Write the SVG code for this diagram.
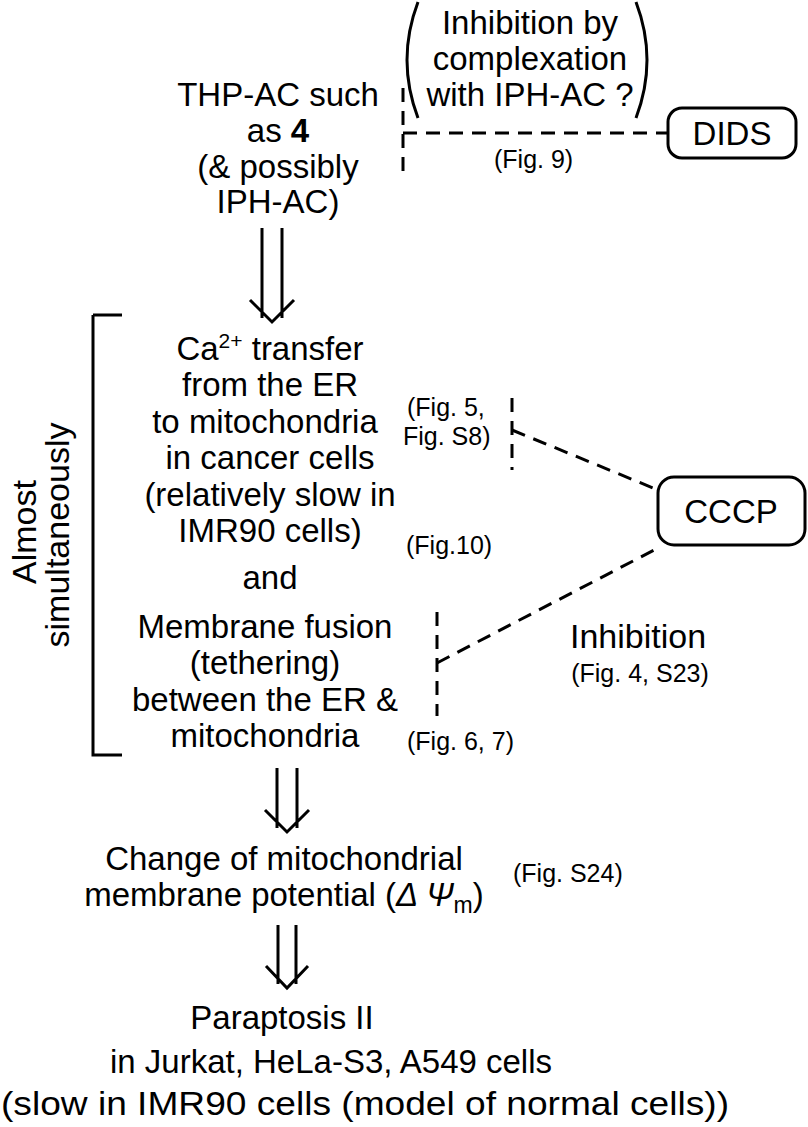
<svg xmlns="http://www.w3.org/2000/svg" width="808" height="1127" viewBox="0 0 808 1127">
<style>
text{font-family:"Liberation Sans",Arial,sans-serif;fill:#000}
.m{font-size:33px;text-anchor:middle}
.s{font-size:25px}
.d{fill:none;stroke:#000;stroke-width:3;stroke-dasharray:14,9}
.l{fill:none;stroke:#000;stroke-width:3}
.b{fill:#fff;stroke:#000;stroke-width:3}
</style>
<rect width="808" height="1127" fill="#fff"/>
<g id="thp">
<text class="m" x="278" y="106">THP-AC such</text>
<text class="m" x="278" y="142">as <tspan font-weight="bold">4</tspan></text>
<text class="m" x="278" y="178">(&amp; possibly</text>
<text class="m" x="278" y="213">IPH-AC)</text>
</g>
<g id="inhib-note">
<text class="m" x="530" y="34">Inhibition by</text>
<text class="m" x="530" y="70">complexation</text>
<text class="m" x="530" y="106">with IPH-AC ?</text>
<path class="l" d="M418,2 Q396,60 418,118"/>
<path class="l" d="M636,2 Q658,60 636,118"/>
</g>
<g id="dids"><rect class="b" x="668" y="108" width="128" height="50" rx="14"/><text class="m" x="732" y="145">DIDS</text></g>
<g id="cccp"><rect class="b" x="658" y="477" width="147" height="68" rx="16"/><text class="m" x="731" y="523">CCCP</text></g>
<g id="mid">
<text class="m" x="270" y="360">Ca<tspan font-size="21" dy="-12">2+</tspan><tspan dy="12"> transfer</tspan></text>
<text class="m" x="270" y="396">from the ER</text>
<text class="m" x="265" y="433">to mitochondria</text>
<text class="m" x="270" y="469">in cancer cells</text>
<text class="m" x="270" y="506">(relatively slow in</text>
<text class="m" x="270" y="542">IMR90 cells)</text>
<text class="m" x="270" y="589">and</text>
<text class="m" x="265" y="638">Membrane fusion</text>
<text class="m" x="265" y="674">(tethering)</text>
<text class="m" x="265" y="711">between the ER &amp;</text>
<text class="m" x="265" y="747">mitochondria</text>
</g>
<g id="side">
<text transform="translate(36,532) rotate(-90)" text-anchor="middle" font-size="34">Almost</text>
<text transform="translate(69,535) rotate(-90)" text-anchor="middle" font-size="34">simultaneously</text>
</g>
<g id="refs">
<text class="s" x="494" y="168">(Fig. 9)</text>
<text class="s" x="407" y="416">(Fig. 5,</text>
<text class="s" x="403" y="445">Fig. S8)</text>
<text class="s" x="406" y="554">(Fig.10)</text>
<text font-size="34" x="638" y="648" text-anchor="middle">Inhibition</text>
<text font-size="25" x="640" y="682" text-anchor="middle">(Fig. 4, S23)</text>
<text class="s" x="407" y="750">(Fig. 6, 7)</text>
<text class="s" x="513" y="882">(Fig. S24)</text>
</g>
<g id="change">
<text class="m" x="284" y="870">Change of mitochondrial</text>
<text class="m" x="284" y="906">membrane potential (<tspan font-style="italic">Δ Ψ</tspan><tspan font-size="23" dy="7">m</tspan><tspan dy="-7">)</tspan></text>
</g>
<g id="para">
<text class="m" x="282" y="1029">Paraptosis II</text>
<text class="m" x="331" y="1073">in Jurkat, HeLa-S3, A549 cells</text>
<text class="m" x="365" y="1115" textLength="728" lengthAdjust="spacingAndGlyphs">(slow in IMR90 cells (model of normal cells))</text>
</g>
<g id="connectors">
<path class="d" d="M403,88V172"/>
<path class="d" d="M403,133H668"/>
<path class="l" d="M93,315H122M93,315V755H122"/>
<path class="l" d="M262,228V318M282,228V318M250,300L272,322L294,300"/>
<path class="l" d="M277,768V828M297,768V828M265,810L287,832L309,810"/>
<path class="l" d="M278,925V984M296,925V984M266,966L287,988L308,966"/>
<path class="d" d="M512,398V470"/>
<path class="d" d="M512,430L658,490"/>
<path class="d" d="M437,612V716"/>
<path class="d" d="M437,663L658,548"/>
</g>
</svg>
